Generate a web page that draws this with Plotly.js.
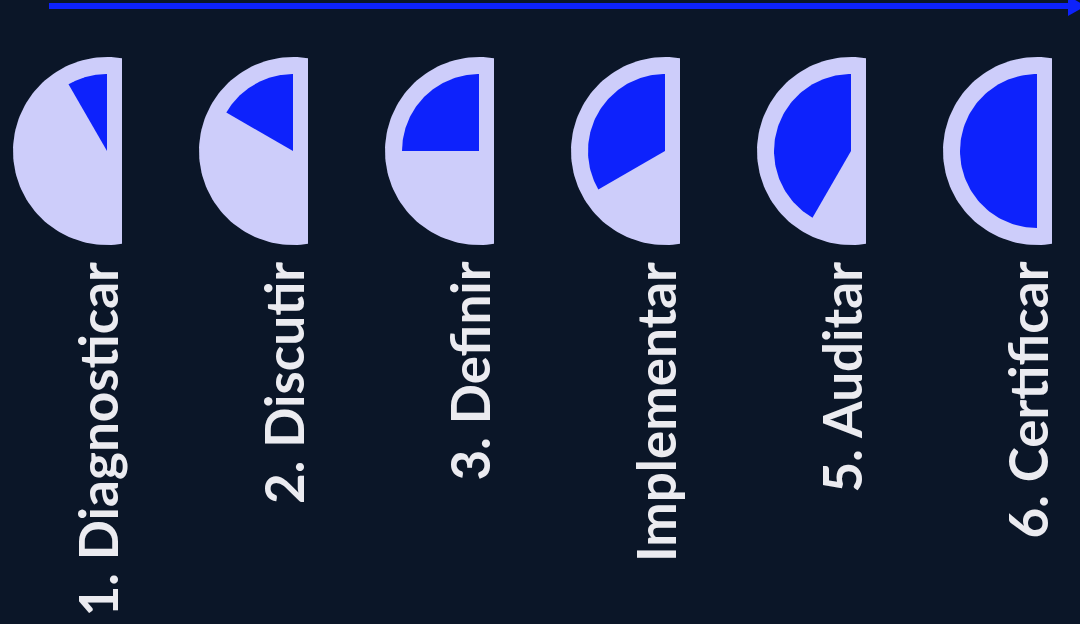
<!DOCTYPE html>
<html>
<head>
<meta charset="utf-8">
<script src="https://cdn.plot.ly/plotly-3.0.1.min.js"></script>
<style>
  html, body { margin: 0; padding: 0; background: #0b1628; }
  #chart { width: 1080px; height: 624px; }
</style>
</head>
<body>
<div id="chart"></div>
<script>
// ---- data ----
const steps = ['1. Diagnosticar', '2. Discutir', '3. Definir', 'Implementar', '5. Auditar', '6. Certificar'];
const progress = [1, 2, 3, 4, 5, 6];
const totalSteps = 6;

// ---- style / layout constants ----
const BG = '#0b1628';
const LAVENDER = '#cdcdfa';
const BLUE = '#0d22fc';
const TEXT = '#ebebf0';

const W = 1080, H = 624;
const firstEdge = 122, spacing = 186;
const centerOffset = 15, cy = 151;
const outerR = 94, wedgeR = 77;
const N = 90;

const traces = [];
const annotations = [];

steps.forEach((label, i) => {
  const edge = firstEdge + spacing * i;
  const cx = edge - centerOffset;
  // outer disc, clipped at the straight edge
  const t0 = -Math.asin(centerOffset / outerR);
  const t1 = Math.PI - t0;
  const ox = [], oy = [];
  for (let k = 0; k <= N; k++) {
    const t = t0 + (t1 - t0) * k / N;
    ox.push(cx - outerR * Math.sin(t));
    oy.push(cy - outerR * Math.cos(t));
  }
  ox.push(ox[0]); oy.push(oy[0]);
  traces.push({
    type: 'scatter', mode: 'lines', x: ox, y: oy, fill: 'toself',
    fillcolor: LAVENDER, line: { width: 0, color: LAVENDER }, hoverinfo: 'skip'
  });

  // progress wedge
  const ang = Math.PI * progress[i] / totalSteps;
  const wx = [cx], wy = [cy];
  for (let k = 0; k <= N; k++) {
    const t = ang * k / N;
    wx.push(cx - wedgeR * Math.sin(t));
    wy.push(cy - wedgeR * Math.cos(t));
  }
  wx.push(cx); wy.push(cy);
  traces.push({
    type: 'scatter', mode: 'lines', x: wx, y: wy, fill: 'toself',
    fillcolor: BLUE, line: { width: 0, color: BLUE }, hoverinfo: 'skip'
  });

  annotations.push({
    x: edge - 25, y: 260, xref: 'x', yref: 'y',
    text: '<b>' + label + '</b>', showarrow: false, textangle: -90,
    xanchor: 'center', yanchor: 'top',
    font: { family: 'Lato, sans-serif', size: 53, color: TEXT }
  });
});

const layout = {
  width: W, height: H,
  paper_bgcolor: BG, plot_bgcolor: BG,
  margin: { l: 0, r: 0, t: 0, b: 0 },
  showlegend: false,
  hovermode: false,
  xaxis: { range: [0, W], visible: false, fixedrange: true },
  yaxis: { range: [H, 0], visible: false, fixedrange: true },
  annotations: annotations,
  shapes: [
    { type: 'line', xref: 'x', yref: 'y', x0: 49, y0: 6, x1: 1070, y1: 6,
      line: { color: BLUE, width: 6 } },
    { type: 'path', xref: 'x', yref: 'y', path: 'M1068,-4 L1068,16 L1086,6 Z',
      fillcolor: BLUE, line: { width: 0 } }
  ]
};

Plotly.newPlot('chart', traces, layout, { staticPlot: true, displayModeBar: false });
</script>
</body>
</html>
